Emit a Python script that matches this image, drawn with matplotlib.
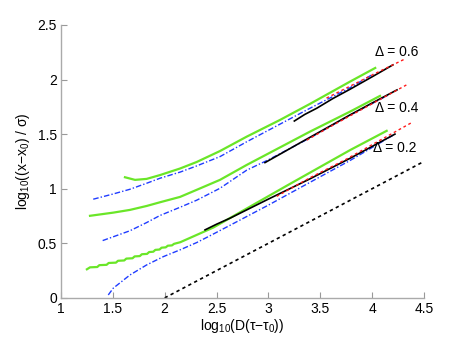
import matplotlib
matplotlib.use("Agg")
import matplotlib.pyplot as plt

plt.rcParams["font.family"] = ["Liberation Sans", "DejaVu Sans"]
plt.rcParams["mathtext.fontset"] = "custom"
plt.rcParams["mathtext.rm"] = "Liberation Sans"
plt.rcParams["mathtext.it"] = "Liberation Sans"

# --- data (log10 units) ---
# Delta = 0.6
g06_x = [1.617, 1.714, 1.826, 1.955, 2.148, 2.309, 2.533, 2.791, 3.112, 3.401, 3.787, 4.03]
g06_y = [1.105, 1.081, 1.090, 1.125, 1.185, 1.245, 1.345, 1.477, 1.630, 1.777, 1.981, 2.106]
b06_x = [1.311, 1.504, 1.665, 1.826, 1.955, 2.148, 2.309, 2.533, 2.791, 3.401, 3.787, 4.01]
b06_y = [0.904, 0.952, 0.995, 1.050, 1.096, 1.152, 1.209, 1.294, 1.430, 1.737, 1.925, 2.05]
k06_x = [3.25, 3.35, 3.466, 3.62, 3.787, 4.00, 4.20]
k06_y = [1.62, 1.68, 1.737, 1.825, 1.911, 2.025, 2.134]
r06_x = [3.56, 3.80, 4.05, 4.32]
r06_y = [1.83, 1.945, 2.065, 2.19]

# Delta = 0.4
g04_x = [1.28, 1.504, 1.665, 1.826, 1.955, 2.148, 2.309, 2.533, 2.791, 3.401, 3.787, 4.076]
g04_y = [0.752, 0.781, 0.806, 0.842, 0.876, 0.925, 0.990, 1.081, 1.218, 1.523, 1.706, 1.85]
b04_x = [1.402, 1.665, 1.826, 1.955, 2.148, 2.309, 2.533, 2.791, 3.00, 3.40, 3.79, 4.15]
b04_y = [0.525, 0.615, 0.690, 0.755, 0.830, 0.895, 1.004, 1.170, 1.265, 1.465, 1.675, 1.855]
k04_x = [2.967, 3.10, 3.305, 3.55, 3.787, 4.00, 4.24]
k04_y = [1.239, 1.31, 1.42, 1.55, 1.676, 1.785, 1.905]
r04_x = [3.37, 3.60, 3.85, 4.10, 4.33]
r04_y = [1.445, 1.57, 1.70, 1.83, 1.95]

# Delta = 0.2 (green is staircase-like at small times)
g02_x = [1.25, 1.28, 1.35, 1.37, 1.44, 1.46, 1.53, 1.55, 1.61, 1.63, 1.69,
         1.71, 1.76, 1.78, 1.83, 1.85, 1.89, 1.91, 1.95, 1.97, 2.01, 2.03,
         2.07, 2.09, 2.15, 2.47, 2.71, 3.20, 3.79, 4.14]
g02_y = [0.262, 0.28, 0.283, 0.30, 0.303, 0.32, 0.323, 0.34, 0.343, 0.36,
         0.363, 0.38, 0.383, 0.40, 0.403, 0.42, 0.423, 0.44, 0.443, 0.46,
         0.463, 0.478, 0.481, 0.495, 0.51, 0.645, 0.775, 1.04, 1.355, 1.53]
b02_x = [1.456, 1.504, 1.665, 1.826, 1.987, 2.148, 2.309, 2.469, 2.63, 3.00, 3.50, 3.79, 4.22]
b02_y = [0.027, 0.089, 0.210, 0.302, 0.378, 0.440, 0.507, 0.585, 0.665, 0.85, 1.11, 1.26, 1.50]
k02_x = [2.389, 2.50, 2.63, 3.00, 3.40, 3.79, 4.22]
k02_y = [0.623, 0.675, 0.73, 0.905, 1.09, 1.28, 1.50]
r02_x = [3.08, 3.40, 3.75, 4.05, 4.39]
r02_y = [0.93, 1.10, 1.27, 1.43, 1.61]

# reference slope-1/2 line
ref_x = [2.0, 4.5]
ref_y = [0.0, 1.25]

labels = ["Δ = 0.6", "Δ = 0.4", "Δ = 0.2"]
label_x = [4.24, 4.24, 4.22]
label_y = [2.25, 1.74, 1.37]

GREEN = "#6ae628"
BLUE = "#1f3cff"
RED = "#ff1a1a"

fig = plt.figure(figsize=(4.69, 3.37), dpi=100)
ax = fig.add_axes([0.130, 0.116, 0.774, 0.810])

for gx, gy, bx, by in [(g06_x, g06_y, b06_x, b06_y),
                       (g04_x, g04_y, b04_x, b04_y),
                       (g02_x, g02_y, b02_x, b02_y)]:
    ax.plot(gx, gy, color=GREEN, lw=1.6)
    ax.plot(bx, by, color=BLUE, lw=1.0, linestyle=(0, (4, 1.5, 1, 1.5)))

for kx, ky, rx, ry in [(k06_x, k06_y, r06_x, r06_y),
                       (k04_x, k04_y, r04_x, r04_y),
                       (k02_x, k02_y, r02_x, r02_y)]:
    ax.plot(kx, ky, color="black", lw=1.2)
    ax.plot(rx, ry, color=RED, lw=1.0, linestyle=(0, (2, 2)))

ax.plot(ref_x, ref_y, color="black", lw=1.2, linestyle=(0, (2, 2)))

for t, tx, ty in zip(labels, label_x, label_y):
    ax.text(tx, ty, t, ha="center", va="center", fontsize=10)

ax.set_xlim(1, 4.5)
ax.set_ylim(0, 2.5)
ax.set_xticks([1, 1.5, 2, 2.5, 3, 3.5, 4, 4.5])
ax.set_xticklabels(["1", "1.5", "2", "2.5", "3", "3.5", "4", "4.5"])
ax.set_yticks([0, 0.5, 1, 1.5, 2, 2.5])
ax.set_yticklabels(["0", "0.5", "1", "1.5", "2", "2.5"])
ax.tick_params(direction="in", length=4, labelsize=10, color="#999999", pad=3)
for s in ["top", "right"]:
    ax.spines[s].set_visible(False)
for s in ["left", "bottom"]:
    ax.spines[s].set_color("#aaaaaa")
    ax.spines[s].set_linewidth(1.0)

ax.set_xlabel(r"log$_{10}$(D($\tau$$-$$\tau_0$))", fontsize=10, labelpad=1)
ax.set_ylabel(r"log$_{10}$((x$-$x$_0$) / $\sigma$)", fontsize=10, labelpad=4)

fig.savefig("out.png", dpi=100)
